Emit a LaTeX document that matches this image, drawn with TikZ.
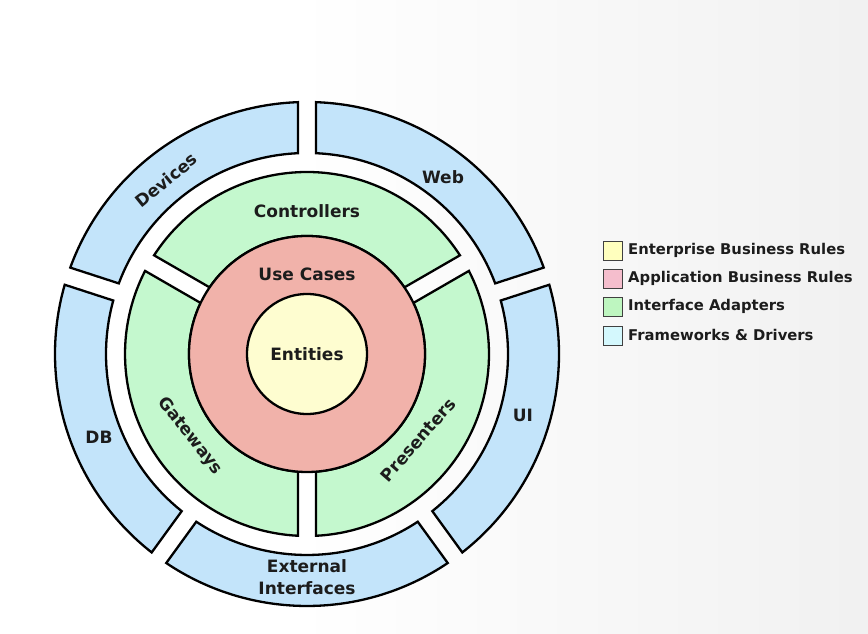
\documentclass[tikz,border=0pt]{standalone}
\usepackage{fontspec}
\setmainfont{DejaVu Sans}
\definecolor{bluefill}{RGB}{195,228,250}
\definecolor{greenfill}{RGB}{196,248,206}
\definecolor{redfill}{RGB}{241,178,170}
\definecolor{yellowfill}{RGB}{254,253,208}
\definecolor{legyellow}{RGB}{255,255,190}
\definecolor{legpink}{RGB}{245,190,205}
\definecolor{leggreen}{RGB}{190,246,192}
\definecolor{legcyan}{RGB}{212,248,253}
\definecolor{txt}{RGB}{28,28,28}
\definecolor{bggray}{RGB}{230,230,230}
\pgfdeclarehorizontalshading{bgshade}{100bp}{color(0bp)=(white); color(42bp)=(white); color(100bp)=(bggray)}
\newcommand\gh{9}
\newcommand\ringseg[5]{%
  \draw[#1] ({#4+asin(\gh/#3)}:#3)
    arc[start angle={#4+asin(\gh/#3)}, end angle={#5-asin(\gh/#3)}, radius=#3]
    -- ({#5-asin(\gh/#2)}:#2)
    arc[start angle={#5-asin(\gh/#2)}, end angle={#4+asin(\gh/#2)}, radius=#2]
    -- cycle;}
\tikzset{
  seg/.style={draw=black, line width=2.3, line join=miter},
  bluesegment/.style={seg, fill=bluefill},
  greensegment/.style={seg, fill=greenfill},
  ringlabel/.style={font=\fontsize{17}{20}\selectfont\bfseries, text=txt, align=center, inner sep=0},
  legbox/.style={draw=black!75, line width=1.5, minimum size=19, inner sep=0},
  legtext/.style={font=\fontsize{14.8}{17}\selectfont\bfseries, text=txt, anchor=west, inner sep=0}
}
\begin{document}
\begin{tikzpicture}[x=1pt,y=1pt]
\useasboundingbox (0,0) rectangle (868,634);
\shade[shading=bgshade] (0,0) rectangle (868,634);
\begin{scope}[shift={(307,280)}]
  % outer ring: Frameworks & Drivers
  \ringseg{bluesegment}{201}{252}{18}{90}
  \ringseg{bluesegment}{201}{252}{90}{162}
  \ringseg{bluesegment}{201}{252}{162}{234}
  \ringseg{bluesegment}{201}{252}{234}{306}
  \ringseg{bluesegment}{201}{252}{306}{378}
  % interface adapters ring
  \ringseg{greensegment}{118}{182}{30}{150}
  \ringseg{greensegment}{118}{182}{150}{270}
  \ringseg{greensegment}{118}{182}{270}{390}
  % use cases and entities
  \draw[seg, fill=redfill] (0,0) circle[radius=118];
  \draw[seg, fill=yellowfill] (0,0) circle[radius=60];
  \node[ringlabel] (entities) at (0,0) {Entities};
  \node[ringlabel] (usecases) at (0,80) {Use Cases};
  \node[ringlabel] (controllers) at (0,143) {Controllers};
  \node[ringlabel, rotate=-52] (gateways) at (-117,-82) {Gateways};
  \node[ringlabel, rotate=49] (presenters) at (111,-86) {Presenters};
  \node[ringlabel, rotate=39] (devices) at (-141,174) {Devices};
  \node[ringlabel] (web) at (136,177) {Web};
  \node[ringlabel] (ui) at (216,-61) {UI};
  \node[ringlabel] (db) at (-208,-83) {DB};
  \node[ringlabel, font=\fontsize{17}{22}\selectfont\bfseries] (external) at (0,-223) {External\\Interfaces};
\end{scope}
% legend
\node[legbox, fill=legyellow] (ly) at (613,383) {};
\node[legbox, fill=legpink] (lp) at (613,355) {};
\node[legbox, fill=leggreen] (lg) at (613,327) {};
\node[legbox, fill=legcyan] (lc) at (613,298) {};
\node[legtext] (tly) at (628,384) {Enterprise Business Rules};
\node[legtext] (tlp) at (628,356) {Application Business Rules};
\node[legtext] (tlg) at (628,328) {Interface Adapters};
\node[legtext] (tlc) at (628,299) {Frameworks \& Drivers};
\end{tikzpicture}
\end{document}
